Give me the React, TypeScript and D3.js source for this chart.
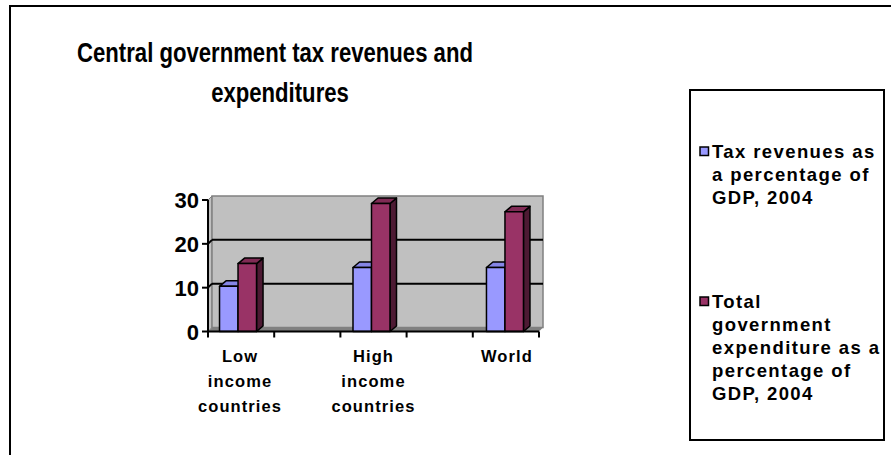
import React from "react";
import * as d3 from "d3";

const categories: string[][] = [
  ["Low", "income", "countries"],
  ["High", "income", "countries"],
  ["World"],
];
const taxRevenues: number[] = [10.3, 14.6, 14.6];
const totalExpenditure: number[] = [15.5, 29.2, 27.3];
const yTicks: number[] = [0, 10, 20, 30];
const titleLines: string[] = ["Central government tax revenues and", "expenditures"];
const legendItems: string[][] = [
  ["Tax revenues as", "a percentage of", "GDP, 2004"],
  ["Total", "government", "expenditure as a", "percentage of", "GDP, 2004"],
];

const W = 891;
const H = 455;
const FONT = "'Liberation Sans', Arial, sans-serif";

const plotLeft = 208;
const plotRight = 539;
const y0 = 331.5;
const y30 = 200;
const wallDx = 4;
const wallDy = -4;
const barDx = 6.5;
const barDy = -5.5;
const barW = 18.5;

const seriesColors = [
  { front: "#9999FF", top: "#8585E6", side: "#5C5C99" },
  { front: "#993366", top: "#802B55", side: "#4D1A33" },
];

export default function App() {
  const y = d3.scaleLinear().domain([0, 30]).range([y0, y30]);
  const x = d3.scaleLinear().domain([-0.225, 2.255]).range([plotLeft, plotRight]);
  const xTickPos = d3.range(6).map((k) => plotLeft + ((plotRight - plotLeft) * k) / 5);

  const series = [taxRevenues, totalExpenditure];

  const bar = (x0: number, v: number, c: typeof seriesColors[0], key: string) => {
    const x1 = x0 + barW;
    const yt = y(v);
    const yb = y(0);
    return (
      <g key={key} stroke="#000" strokeWidth={1.5} strokeLinejoin="round">
        <polygon
          points={`${x1},${yb} ${x1 + barDx},${yb + barDy} ${x1 + barDx},${yt + barDy} ${x1},${yt}`}
          fill={c.side}
        />
        <polygon
          points={`${x0},${yt} ${x0 + barDx},${yt + barDy} ${x1 + barDx},${yt + barDy} ${x1},${yt}`}
          fill={c.top}
        />
        <rect x={x0} y={yt} width={barW} height={yb - yt} fill={c.front} />
      </g>
    );
  };

  const titleCx = [275, 280];
  const titleScale = 0.82;

  return (
    <svg
      width={W}
      height={H}
      style={{ position: "absolute", left: 0, top: 0, background: "#fff" }}
      fontFamily={FONT}
    >
      <rect x={0} y={0} width={W} height={H} fill="#fff" />
      <rect x={10} y={6} width={W + 20} height={H + 20} fill="none" stroke="#000" strokeWidth={2} />

      {/* title */}
      {titleLines.map((t, i) => (
        <g key={t} transform={`translate(${titleCx[i]},0) scale(${titleScale},1)`}>
          <text x={0} y={62 + i * 40} textAnchor="middle" fontSize={27} fontWeight="bold" fill="#000">
            {t}
          </text>
        </g>
      ))}

      {/* walls */}
      <polygon
        points={`${plotLeft},${y(30)} ${plotLeft + wallDx},${y(30) + wallDy} ${plotLeft + wallDx},${y(0) + wallDy} ${plotLeft},${y(0)}`}
        fill="#C0C0C0"
        stroke="#808080"
        strokeWidth={1}
      />
      <rect
        x={plotLeft + wallDx}
        y={y(30) + wallDy}
        width={plotRight - plotLeft}
        height={y(0) - y(30)}
        fill="#C0C0C0"
        stroke="#808080"
        strokeWidth={1.5}
      />
      <polygon
        points={`${plotLeft},${y(0)} ${plotLeft + wallDx},${y(0) + wallDy} ${plotRight + wallDx},${y(0) + wallDy} ${plotRight},${y(0)}`}
        fill="#808080"
      />
      {yTicks
        .filter((v) => v > 0 && v < 30)
        .map((v) => (
          <g key={`g${v}`} stroke="#000" strokeWidth={2} fill="none">
            <line x1={plotLeft} y1={y(v)} x2={plotLeft + wallDx} y2={y(v) + wallDy} />
            <line x1={plotLeft + wallDx} y1={y(v) + wallDy} x2={plotRight + wallDx} y2={y(v) + wallDy} />
          </g>
        ))}

      {/* bars */}
      {categories.map((_, i) => {
        const cx = x(i);
        return (
          <g key={`c${i}`}>
            {series.map((s, si) => bar(si === 0 ? cx - barW : cx, s[i], seriesColors[si], `b${i}-${si}`))}
          </g>
        );
      })}

      {/* axes */}
      <g stroke="#000" strokeWidth={2}>
        <line x1={plotLeft} y1={y(0)} x2={plotLeft} y2={y(30)} />
        <line x1={plotLeft} y1={y(0)} x2={plotRight} y2={y(0)} />
        {yTicks.map((v) => (
          <line key={`yt${v}`} x1={plotLeft - 6} y1={y(v)} x2={plotLeft} y2={y(v)} />
        ))}
        {xTickPos.map((p, k) => (
          <line key={`xt${k}`} x1={p} y1={y(0)} x2={p} y2={y(0) + 6} />
        ))}
      </g>
      {yTicks.map((v) => (
        <text
          key={`yl${v}`}
          x={plotLeft - 9}
          y={y(v) + 8}
          textAnchor="end"
          fontSize={22}
          fontWeight="bold"
          fill="#000"
        >
          {v}
        </text>
      ))}
      {categories.map((lines, i) =>
        lines.map((l, li) => (
          <text
            key={`cl${i}-${li}`}
            x={x(i) + 2}
            y={362 + li * 25}
            textAnchor="middle"
            fontSize={16.5}
            fontWeight="bold"
            letterSpacing={1.1}
            fill="#000"
          >
            {l}
          </text>
        ))
      )}

      {/* legend */}
      <rect x={690} y={90} width={194} height={350} fill="#fff" stroke="#000" strokeWidth={2} />
      {legendItems.map((lines, ii) => {
        const baseY = ii === 0 ? 158 : 308;
        return (
          <g key={`lg${ii}`}>
            <rect
              x={700}
              y={baseY - 11}
              width={8.5}
              height={8.5}
              fill={seriesColors[ii].front}
              stroke="#000"
              strokeWidth={1.5}
            />
            {lines.map((l, li) => (
              <text
                key={`lt${ii}-${li}`}
                x={712}
                y={baseY + li * 23}
                fontSize={18.5}
                fontWeight="bold"
                letterSpacing={1.4}
                fill="#000"
              >
                {l}
              </text>
            ))}
          </g>
        );
      })}
    </svg>
  );
}
